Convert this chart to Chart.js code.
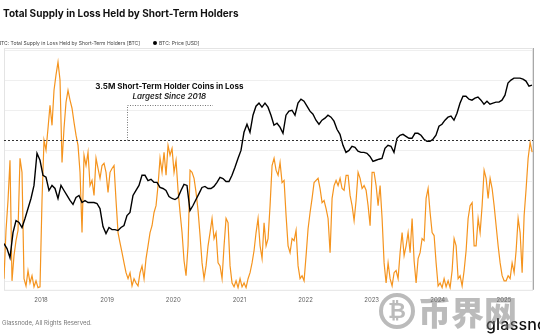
<!DOCTYPE html>
<html>
<head>
<meta charset="utf-8">
<script src="https://cdn.jsdelivr.net/npm/chart.js@4"></script>
<style>
  body { margin: 0; width: 540px; height: 336px; overflow: hidden; background: #fff; position: relative; font-family: Inter, "Noto Sans", sans-serif; }
  #wrap { position: absolute; left: 0; top: 0; width: 540px; height: 336px; }
  .txt { position: absolute; white-space: nowrap; }
  #title { left: 3px; top: 7px; font-size: 10px; font-weight: 700; color: #111; }
  #legend { left: -8px; top: 40px; font-size: 5px; color: #444; }
  #legend .dot { display: inline-block; width: 4px; height: 4px; border-radius: 50%; margin-right: 2px; vertical-align: 0; }
  #footer { left: 2px; top: 319px; font-size: 6px; color: #777; }
  #logo { left: 486px; top: 314px; font-size: 16px; font-weight: 500; color: #111; letter-spacing: 0.2px; }
  #mark { left: 418px; top: 287px; font-family: "Noto Sans CJK SC", sans-serif; font-size: 33px; font-weight: 900; color: rgba(120,120,120,0.5); }
  #coin { left: 379px; top: 293px; width: 28px; height: 28px; border: 4px solid rgba(120,120,120,0.5); border-radius: 50%; color: rgba(120,120,120,0.5); font: 900 22px "DejaVu Sans", sans-serif; text-align: center; line-height: 28px; }
</style>
</head>
<body>
<div id="wrap"><canvas id="chart" width="540" height="336"></canvas></div>
<div class="txt" id="title">Total Supply in Loss Held by Short-Term Holders</div>
<div class="txt" id="legend"><span class="dot" style="background:#f7931a"></span>BTC: Total Supply in Loss Held by Short-Term Holders [BTC]<span style="display:inline-block;width:13px"></span><span class="dot" style="background:#000"></span>BTC: Price [USD]</div>
<div class="txt" id="footer">Glassnode, All Rights Reserved.</div>
<div class="txt" id="logo">glassnode</div>
<div class="txt" id="coin">₿</div>
<div class="txt" id="mark">币界网</div>
<script>
// time axis: fractional years, series sampled at a fixed step from the start
const T_START = 2017.44;
const T_END = 2025.44;
const SUPPLY_STEP_DAYS = 11.05;
const PRICE_STEP_DAYS = 16.57;
const YEAR_TICKS = [2018, 2019, 2020, 2021, 2022, 2023, 2024, 2025];
const PRICE_GRID = [1000, 2000, 5000, 10000, 20000, 50000, 100000, 200000];

// STH supply in loss, millions of BTC
const SUPPLY_M = [
  0.26, 1.39, 2.09, 3.03, 0.21, 0.80, 1.15, 1.39, 3.08, 2.75,
  0.26, 0.09, 0.45, 0.16, 0.33, 0.07, 0.21, 0.05, 0.07, 2.09,
  3.50, 3.27, 3.78, 4.32, 3.85, 4.67, 5.03, 5.33, 4.91, 2.98,
  3.78, 4.39, 4.67, 4.44, 4.25, 3.92, 3.62, 3.38, 2.75, 1.34,
  3.15, 2.91, 3.22, 2.44, 2.56, 2.21, 3.08, 2.84, 2.61, 2.91,
  2.96, 2.75, 2.28, 2.75, 2.84, 2.91, 2.09, 1.34, 1.10, 0.87,
  0.63, 0.40, 0.26, 0.40, 0.09, 0.26, 0.16, 0.09, 0.40, 0.56,
  0.26, 0.73, 1.03, 1.34, 1.50, 1.81, 1.97, 2.44, 3.08, 2.75,
  3.22, 2.68, 3.38, 3.15, 3.31, 2.75, 3.03, 2.33, 1.81, 1.34,
  0.68, 0.33, 1.03, 2.80, 2.75, 2.61, 2.28, 1.86, 1.27, 0.63,
  0.26, 0.56, 1.03, 1.34, 1.67, 1.20, 1.34, 0.63, 0.56, 0.26,
  1.03, 1.67, 1.57, 0.56, 0.16, 0.07, 0.21, 0.05, 0.26, 0.07,
  0.16, 0.05, 0.26, 0.40, 0.63, 0.92, 1.34, 1.67, 1.03, 0.73,
  1.57, 1.03, 1.20, 1.97, 2.91, 3.08, 2.80, 2.68, 2.98, 2.51,
  2.56, 1.74, 1.03, 0.87, 1.20, 1.15, 1.39, 0.56, 0.26, 0.33,
  0.21, 0.80, 1.43, 1.81, 2.14, 2.51, 2.56, 2.61, 2.37, 2.04,
  2.09, 1.90, 1.67, 0.87, 2.14, 2.44, 2.56, 2.44, 2.61, 2.37,
  2.33, 2.68, 2.68, 2.21, 1.97, 1.62, 2.09, 2.75, 2.61, 2.37,
  2.44, 2.33, 1.97, 1.50, 2.75, 2.75, 2.44, 1.97, 2.44, 1.67,
  0.63, 0.16, 0.63, 0.26, 0.09, 0.40, 0.45, 0.26, 0.87, 1.34,
  0.80, 1.03, 1.34, 0.87, 1.67, 0.68, 0.16, 0.73, 0.87, 1.20,
  1.15, 2.14, 2.37, 1.81, 1.34, 1.27, 0.63, 0.09, 0.16, 0.05,
  0.26, 0.07, 0.21, 0.05, 0.45, 1.20, 1.03, 0.26, 0.33, 0.09,
  0.45, 0.92, 1.67, 1.97, 2.04, 1.03, 1.03, 1.67, 1.34, 1.97,
  2.80, 2.61, 2.14, 2.61, 2.37, 1.97, 1.50, 1.03, 0.63, 0.33,
  0.21, 0.21, 0.33, 0.26, 0.63, 0.40, 0.92, 1.67, 1.34, 0.40,
  1.74, 2.37, 3.08, 3.45, 3.22
];

// BTC price, USD
const PRICE_USD = [
  2380, 2120, 1720, 3060, 4040, 3860, 3440, 4230, 5320, 6700,
  9040, 18900, 16100, 11400, 10900, 8050, 9040, 8430, 6700, 9040,
  8050, 7180, 6400, 5840, 6850, 7180, 6110, 6400, 6110, 6110,
  6110, 5970, 5320, 3520, 3000, 3440, 3280, 3280, 3210, 3440,
  3600, 4530, 4860, 7180, 8050, 9040, 11400, 11400, 10100, 10400,
  9700, 9700, 8630, 8430, 8050, 7010, 6700, 6540, 6850, 8050,
  9250, 9040, 5080, 5700, 6540, 7500, 8630, 8840, 8430, 8430,
  8840, 9700, 10900, 10600, 9900, 9900, 11400, 13700, 16800, 20200,
  30600, 36800, 30600, 45300, 55700, 59700, 54500, 59700, 54500, 45300,
  36000, 37700, 34400, 29900, 45300, 49700, 50800, 45300, 59700, 65500,
  62500, 55700, 49700, 46400, 40400, 36800, 40400, 42300, 45300, 43300,
  39500, 32800, 29200, 22700, 19300, 20200, 22200, 21700, 19800, 19300,
  19300, 18900, 17600, 15700, 16100, 16500, 16800, 21200, 22700, 22200,
  19300, 26700, 28600, 29200, 27900, 26700, 26700, 29900, 29900, 28600,
  26100, 24900, 24900, 26100, 28600, 35200, 36800, 40400, 43300, 44300,
  40400, 47400, 59700, 70100, 70100, 65500, 64000, 67000, 68600, 64000,
  58400, 62500, 58400, 59700, 61100, 61100, 64000, 71800, 94700, 101400,
  106200, 106200, 106200, 103800, 99100, 88300, 90400
];

// callout settings
const THRESHOLD_M = 3.5;
const CALLOUT_T = 2019.30, CALLOUT_T_END = 2020.60, CALLOUT_M = 4.32;
const LABEL_T = 2019.94, LABEL_M1 = 4.76, LABEL_M2 = 4.52;

const supplyPoints = SUPPLY_M.map((v, i) => ({ x: T_START + i * SUPPLY_STEP_DAYS / 365.25, y: v }));
const pricePoints = PRICE_USD.map((v, i) => ({ x: T_START + i * PRICE_STEP_DAYS / 365.25, y: v }));

const noSize = { afterFit(scale) { scale.width = 0; } };

const frame = {
  id: 'frame',
  beforeDatasetsDraw(chart) {
    const { ctx, chartArea: a } = chart;
    ctx.save();
    ctx.strokeStyle = '#e4e4e4';
    ctx.lineWidth = 1;
    ctx.strokeRect(a.left + 0.5, a.top + 0.5, a.right - a.left - 1, a.bottom - a.top);
    ctx.strokeStyle = '#a8a8a8';
    ctx.beginPath();
    ctx.moveTo(a.right + 0.5, a.top);
    ctx.lineTo(a.right + 0.5, a.bottom);
    ctx.stroke();
    ctx.restore();
  }
};

const callout = {
  id: 'callout',
  afterDatasetsDraw(chart) {
    const { ctx, chartArea: a, scales } = chart;
    const x = scales.x, y = scales.supply;
    const yT = Math.round(y.getPixelForValue(THRESHOLD_M)) + 0.5;
    const x0 = Math.round(x.getPixelForValue(CALLOUT_T)) + 0.5;
    const x1 = x.getPixelForValue(CALLOUT_T_END);
    const yC = Math.round(y.getPixelForValue(CALLOUT_M)) + 0.5;
    ctx.save();
    ctx.lineWidth = 1;
    ctx.strokeStyle = '#333';
    ctx.setLineDash([2, 2]);
    ctx.beginPath();
    ctx.moveTo(a.left, yT);
    ctx.lineTo(a.right, yT);
    ctx.stroke();
    ctx.strokeStyle = '#777';
    ctx.setLineDash([1, 1.5]);
    ctx.beginPath();
    ctx.moveTo(x0, yT);
    ctx.lineTo(x0, yC);
    ctx.lineTo(x1, yC);
    ctx.stroke();
    ctx.setLineDash([]);
    ctx.fillStyle = '#111';
    ctx.textAlign = 'center';
    ctx.textBaseline = 'middle';
    const xl = x.getPixelForValue(LABEL_T);
    ctx.font = 'bold 8px Inter, sans-serif';
    ctx.fillText('3.5M Short-Term Holder Coins in Loss', xl, y.getPixelForValue(LABEL_M1));
    ctx.font = 'italic 600 8px Inter, sans-serif';
    ctx.fillStyle = '#222';
    ctx.fillText('Largest Since 2018', xl, y.getPixelForValue(LABEL_M2));
    ctx.restore();
  }
};

new Chart(document.getElementById('chart'), {
  type: 'line',
  data: {
    datasets: [
      {
        label: 'BTC: Price [USD]',
        data: pricePoints,
        yAxisID: 'price',
        borderColor: '#000',
        borderWidth: 1.4,
        pointRadius: 0,
        tension: 0,
        order: 0
      },
      {
        label: 'BTC: Total Supply in Loss Held by Short-Term Holders [BTC]',
        data: supplyPoints,
        yAxisID: 'supply',
        borderColor: '#f5941e',
        borderWidth: 1.2,
        pointRadius: 0,
        tension: 0,
        order: 1
      }
    ]
  },
  options: {
    responsive: false,
    animation: false,
    layout: { padding: { left: 4, right: 7, top: 48, bottom: 25 } },
    plugins: { legend: { display: false }, tooltip: { enabled: false } },
    scales: {
      x: {
        type: 'linear',
        min: T_START,
        max: T_END,
        afterBuildTicks(scale) { scale.ticks = YEAR_TICKS.map(v => ({ value: v })); },
        grid: { display: false, drawTicks: false },
        border: { display: false },
        ticks: {
          padding: 7,
          autoSkip: false,
          color: '#666',
          font: { family: 'Inter, sans-serif', size: 6 },
          maxRotation: 0,
          callback: v => String(v)
        }
      },
      supply: {
        type: 'linear',
        position: 'left',
        min: 0,
        max: 5.66,
        ...noSize,
        grid: { display: false },
        border: { display: false },
        ticks: { display: false }
      },
      price: {
        type: 'logarithmic',
        position: 'right',
        min: 824,
        max: 211800,
        ...noSize,
        afterBuildTicks(scale) { scale.ticks = PRICE_GRID.map(v => ({ value: v })); },
        grid: { color: '#efefef', drawTicks: false },
        border: { display: false },
        ticks: { display: false }
      }
    }
  },
  plugins: [frame, callout]
});
</script>
</body>
</html>
